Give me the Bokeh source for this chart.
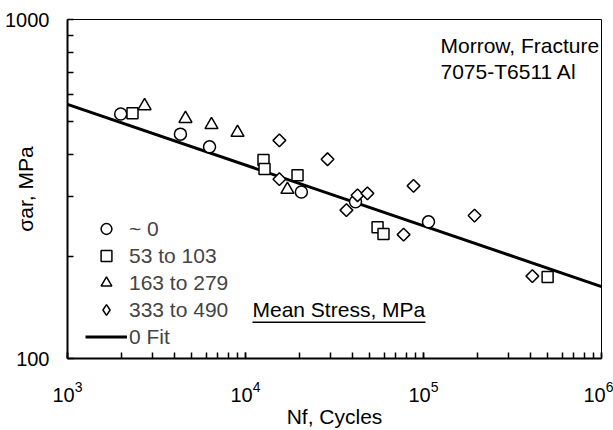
import math
from bokeh.plotting import figure
from bokeh.models import (Range1d, Label, Legend, LegendItem, BoxAnnotation,
                          BasicTickFormatter, FixedTicker)
from bokeh.embed import file_html
from bokeh.resources import INLINE

# ---- data ----
circle_N = [1990, 4310, 6280, 20600, 41500, 106700]
circle_S = [526, 459, 421, 310, 290, 253]

square_N = [2318, 12620, 12790, 19600, 55200, 59600, 498000]
square_S = [529, 385, 362, 347, 244, 233, 174]

tri_N = [2710, 4600, 6440, 9020, 17200]
tri_S = [556, 510, 489, 464, 315]

dia_N = [15500, 15500, 28900, 36900, 42600, 48400, 87900, 77300, 193500, 409000]
dia_S = [440, 338, 387, 274, 303, 307, 323, 232, 264, 175]

fit_N = [1e3, 1e6]
fit_S = [562, 163]

y_major = [100, 1000]
y_minor = [200, 300, 400, 500, 600, 700, 800, 900]

legend_labels = ["~ 0", "53 to 103", "163 to 279", "333 to 490", "0 Fit"]
x_title = "Nf, Cycles"
y_title = "σar, MPa"

FONT = "Liberation Sans"
SHIFT = 9  # canvas Label baseline correction

p = figure(width=613, height=430, x_axis_type="log", y_axis_type="log",
           x_range=Range1d(1e3, 1e6), y_range=Range1d(100, 1000),
           output_backend="svg", toolbar_location=None,
           min_border_left=67, min_border_right=12,
           min_border_top=19, min_border_bottom=71)

p.xgrid.visible = False
p.ygrid.visible = False
p.outline_line_color = "black"
p.outline_line_width = 1
p.background_fill_color = "white"
p.border_fill_color = "white"

for ax in (p.xaxis, p.yaxis):
    ax.axis_line_width = 2
    ax.axis_line_color = "black"
    ax.major_tick_in = 6
    ax.major_tick_out = 0
    ax.minor_tick_in = 6
    ax.minor_tick_out = 0
    ax.major_tick_line_width = 1.5
    ax.minor_tick_line_width = 1.5
    ax.major_tick_line_color = "black"
    ax.minor_tick_line_color = "black"
    ax.major_label_text_font = FONT
    ax.major_label_text_font_size = "20px"
    ax.major_label_text_color = "black"
    ax.axis_label_text_font = FONT
    ax.axis_label_text_font_size = "21px"
    ax.axis_label_text_font_style = "normal"
    ax.axis_label_text_color = "black"

p.xaxis.major_label_standoff = 22
p.yaxis.major_label_standoff = 18
p.yaxis.ticker = FixedTicker(ticks=y_major, minor_ticks=y_minor)
p.yaxis.formatter = BasicTickFormatter(use_scientific=False)

# axis titles; the y title sits inside the tick-label column, as in the source
p.xaxis.axis_label = x_title
p.xaxis.axis_label_standoff = 0
p.yaxis.axis_label = y_title
p.yaxis.axis_label_standoff = -35

# fit line (drawn first so markers sit on top)
r_fit = p.line(fit_N, fit_S, line_color="black", line_width=3)

mk = dict(fill_color="white", line_color="black", line_width=1.5)
r_c = p.scatter(circle_N, circle_S, marker="circle", size=12, **mk)
r_s = p.scatter(square_N, square_S, marker="square", size=11, **mk)
r_t = p.scatter(tri_N, tri_S, marker="triangle", size=13, **mk)
r_d = p.scatter(dia_N, dia_S, marker="square", size=9, angle=math.pi / 4, **mk)
# legend key for the diamonds (hidden renderer, only its legend symbol shows)
r_d_key = p.scatter(dia_N, dia_S, marker="diamond", size=12, visible=False, **mk)

legend = Legend(
    items=[LegendItem(label=legend_labels[0], renderers=[r_c]),
           LegendItem(label=legend_labels[1], renderers=[r_s]),
           LegendItem(label=legend_labels[2], renderers=[r_t]),
           LegendItem(label=legend_labels[3], renderers=[r_d_key]),
           LegendItem(label=legend_labels[4], renderers=[r_fit])],
    location=(18, 8), padding=0, margin=0, spacing=0,
    glyph_width=42, glyph_height=27, label_height=27, label_standoff=2,
    label_text_font=FONT, label_text_font_size="21px",
    border_line_color=None, background_fill_alpha=0)
p.add_layout(legend)

# annotations inside the frame
lab = dict(text_font=FONT, text_font_size="21px", text_color="black",
           text_baseline="alphabetic", text_align="left")
p.add_layout(Label(x=1e6, y=1000, x_offset=-161, y_offset=-35 + SHIFT,
                   text="Morrow, Fracture", **lab))
p.add_layout(Label(x=1e6, y=1000, x_offset=-161, y_offset=-61 + SHIFT,
                   text="7075-T6511 Al", **lab))
p.add_layout(Label(x=1e3, y=100, x_offset=185, y_offset=40 + SHIFT,
                   text="Mean Stress, MPa", **lab))
p.add_layout(BoxAnnotation(left=185, right=358, bottom=35.5, top=37,
                           left_units="screen", right_units="screen",
                           bottom_units="screen", top_units="screen",
                           fill_color="black", fill_alpha=1, line_color=None))

open("out.html", "w").write(file_html(p, INLINE))
